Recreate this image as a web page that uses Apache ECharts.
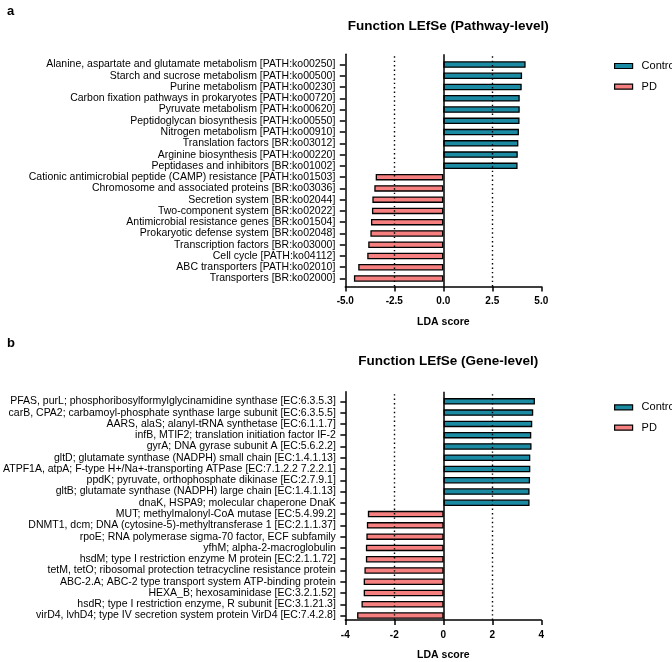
<!DOCTYPE html>
<html>
<head>
<meta charset="utf-8">
<script src="https://cdn.jsdelivr.net/npm/echarts@6/dist/echarts.min.js"></script>
<style>html,body{margin:0;padding:0;background:#fff}#c{width:672px;height:662px}</style>
</head>
<body>
<div id="c"></div>
<script>
// ---- Panel a data (Pathway-level) ----
var pathwayCategories = [
  'Alanine, aspartate and glutamate metabolism [PATH:ko00250]',
  'Starch and sucrose metabolism [PATH:ko00500]',
  'Purine metabolism [PATH:ko00230]',
  'Carbon fixation pathways in prokaryotes [PATH:ko00720]',
  'Pyruvate metabolism [PATH:ko00620]',
  'Peptidoglycan biosynthesis [PATH:ko00550]',
  'Nitrogen metabolism [PATH:ko00910]',
  'Translation factors [BR:ko03012]',
  'Arginine biosynthesis [PATH:ko00220]',
  'Peptidases and inhibitors [BR:ko01002]',
  'Cationic antimicrobial peptide (CAMP) resistance [PATH:ko01503]',
  'Chromosome and associated proteins [BR:ko03036]',
  'Secretion system [BR:ko02044]',
  'Two-component system [BR:ko02022]',
  'Antimicrobial resistance genes [BR:ko01504]',
  'Prokaryotic defense system [BR:ko02048]',
  'Transcription factors [BR:ko03000]',
  'Cell cycle [PATH:ko04112]',
  'ABC transporters [PATH:ko02010]',
  'Transporters [BR:ko02000]'
];
var pathwayControl = [4.20, 4.02, 4.00, 3.90, 3.90, 3.89, 3.86, 3.83, 3.80, 3.79, '-', '-', '-', '-', '-', '-', '-', '-', '-', '-'];
var pathwayPD = ['-', '-', '-', '-', '-', '-', '-', '-', '-', '-', -3.45, -3.52, -3.62, -3.64, -3.69, -3.72, -3.83, -3.88, -4.34, -4.56];
var pathwayTicks = { min: -5, max: 5, interval: 2.5, guides: [-2.5, 2.5] };

// ---- Panel b data (Gene-level) ----
var geneCategories = [
  'PFAS, purL; phosphoribosylformylglycinamidine synthase [EC:6.3.5.3]',
  'carB, CPA2; carbamoyl-phosphate synthase large subunit [EC:6.3.5.5]',
  'AARS, alaS; alanyl-tRNA synthetase [EC:6.1.1.7]',
  'infB, MTIF2; translation initiation factor IF-2',
  'gyrA; DNA gyrase subunit A [EC:5.6.2.2]',
  'gltD; glutamate synthase (NADPH) small chain [EC:1.4.1.13]',
  'ATPF1A, atpA; F-type H+/Na+-transporting ATPase [EC:7.1.2.2 7.2.2.1]',
  'ppdK; pyruvate, orthophosphate dikinase [EC:2.7.9.1]',
  'gltB; glutamate synthase (NADPH) large chain [EC:1.4.1.13]',
  'dnaK, HSPA9; molecular chaperone DnaK',
  'MUT; methylmalonyl-CoA mutase [EC:5.4.99.2]',
  'DNMT1, dcm; DNA (cytosine-5)-methyltransferase 1 [EC:2.1.1.37]',
  'rpoE; RNA polymerase sigma-70 factor, ECF subfamily',
  'yfhM; alpha-2-macroglobulin',
  'hsdM; type I restriction enzyme M protein [EC:2.1.1.72]',
  'tetM, tetO; ribosomal protection tetracycline resistance protein',
  'ABC-2.A; ABC-2 type transport system ATP-binding protein',
  'HEXA_B; hexosaminidase [EC:3.2.1.52]',
  'hsdR; type I restriction enzyme, R subunit [EC:3.1.21.3]',
  'virD4, lvhD4; type IV secretion system protein VirD4 [EC:7.4.2.8]'
];
var geneControl = [3.74, 3.67, 3.63, 3.59, 3.60, 3.55, 3.55, 3.54, 3.52, 3.52, '-', '-', '-', '-', '-', '-', '-', '-', '-', '-'];
var genePD = ['-', '-', '-', '-', '-', '-', '-', '-', '-', '-', -3.10, -3.14, -3.16, -3.18, -3.18, -3.24, -3.27, -3.27, -3.36, -3.54];
var geneTicks = { min: -4, max: 4, interval: 2, guides: [-2, 2] };

var seriesNames = ['Control', 'PD'];
var titles = ['Function LEfSe (Pathway-level)', 'Function LEfSe (Gene-level)'];
var panelLetters = ['a', 'b'];

// ---- styles ----
var FONT = '"Liberation Sans", Arial, Helvetica, sans-serif';
var COL_CTRL = '#1b8aa3';
var COL_PD = '#f67f7f';
var AX = { color: '#000', width: 1.5 };

var panels = [
  { cats: pathwayCategories, ctrl: pathwayControl, pd: pathwayPD, ticks: pathwayTicks, fmt: function (v) { return v.toFixed(1); },
    frameTop: 54.3, frameBottom: 286.5, barTop: 58.9, barBottom: 284.1, titleTop: 14, letterTop: 0, legTop: [54, 74.7] },
  { cats: geneCategories, ctrl: geneControl, pd: genePD, ticks: geneTicks, fmt: function (v) { return String(v); },
    frameTop: 391.7, frameBottom: 622.3, barTop: 395.7, barBottom: 621.2, titleTop: 349, letterTop: 332, legTop: [395.3, 415.7] }
];

var H = 662, LEFT = 345.3, RIGHT = 672 - 541.3;
var option = { animation: false, grid: [], xAxis: [], yAxis: [], series: [], title: [], legend: [] };

panels.forEach(function (p, i) {
  var gFrame = i * 2, gBar = i * 2 + 1;
  option.grid.push({ left: LEFT, right: RIGHT, top: p.frameTop, bottom: H - p.frameBottom, containLabel: false });
  option.grid.push({ left: LEFT, right: RIGHT, top: p.barTop, bottom: H - p.barBottom, containLabel: false });

  // frame axes
  option.xAxis.push({
    type: 'value', gridIndex: gFrame, min: p.ticks.min, max: p.ticks.max, interval: p.ticks.interval,
    axisLine: { show: true, onZero: false, lineStyle: AX },
    axisTick: { show: true, length: 5, lineStyle: AX },
    splitLine: { show: false },
    axisLabel: { color: '#000', fontFamily: FONT, fontWeight: 'bold', fontSize: 10, margin: 10, formatter: p.fmt },
    name: 'LDA score', nameLocation: 'middle', nameGap: 30,
    nameTextStyle: { color: '#000', fontFamily: FONT, fontWeight: 'bold', fontSize: 10.5 }
  });
  option.yAxis.push({
    type: 'value', gridIndex: gFrame, min: 0, max: 1,
    axisLine: { show: true, onZero: false, lineStyle: AX }, axisTick: { show: false }, axisLabel: { show: false }, splitLine: { show: false }
  });
  // bar axes
  option.xAxis.push({ type: 'value', gridIndex: gBar, min: p.ticks.min, max: p.ticks.max, interval: p.ticks.interval, show: false });
  option.yAxis.push({
    type: 'category', gridIndex: gBar, data: p.cats, inverse: true,
    axisLine: { show: false, onZero: false },
    axisTick: { show: true, length: 5.5, alignWithLabel: true, interval: 0, lineStyle: AX },
    axisLabel: { color: '#000', fontFamily: FONT, fontSize: 10.5, margin: 10, interval: 0 },
    splitLine: { show: false }
  });

  // guide lines
  var guideData = p.ticks.guides.map(function (g) {
    return { xAxis: g, lineStyle: { color: '#000', width: 1.4, type: [1.4, 3] } };
  });
  guideData.push({ xAxis: 0, lineStyle: { color: '#000', width: 1.5, type: 'solid' } });
  option.series.push({
    type: 'line', xAxisIndex: gFrame, yAxisIndex: gFrame, data: [], silent: true, showSymbol: false,
    markLine: { silent: true, symbol: ['none', 'none'], label: { show: false }, data: guideData, animation: false }
  });

  option.series.push({
    name: seriesNames[0], type: 'bar', xAxisIndex: gBar, yAxisIndex: gBar, stack: 's' + i, barWidth: 6.5,
    data: p.ctrl, itemStyle: { color: COL_CTRL, borderColor: '#000', borderWidth: 1.3 }
  });
  option.series.push({
    name: seriesNames[1], type: 'bar', xAxisIndex: gBar, yAxisIndex: gBar, stack: 's' + i, barWidth: 6.5,
    data: p.pd, itemStyle: { color: COL_PD, borderColor: '#000', borderWidth: 1.3 }
  });

  option.title.push({
    text: titles[i], left: 443.3, textAlign: 'center', top: p.titleTop,
    textStyle: { fontFamily: FONT, fontWeight: 'bold', fontSize: 13.5, color: '#000' }
  });
  option.title.push({
    text: panelLetters[i], left: 2, top: p.letterTop,
    textStyle: { fontFamily: FONT, fontWeight: 'bold', fontSize: 13, color: '#000' }
  });

  seriesNames.forEach(function (n, k) {
    option.legend.push({
      data: [n], left: 609, top: p.legTop[k], selectedMode: false, icon: 'rect',
      itemWidth: 18, itemHeight: 5, itemGap: 0,
      itemStyle: { borderColor: '#000', borderWidth: 1.2 },
      textStyle: { fontFamily: FONT, fontSize: 11, color: '#000', lineHeight: 14, padding: [0, 0, 0, 4] }
    });
  });
});

var chart = echarts.init(document.getElementById('c'), null, { renderer: 'canvas' });
chart.setOption(option);
</script>
</body>
</html>
